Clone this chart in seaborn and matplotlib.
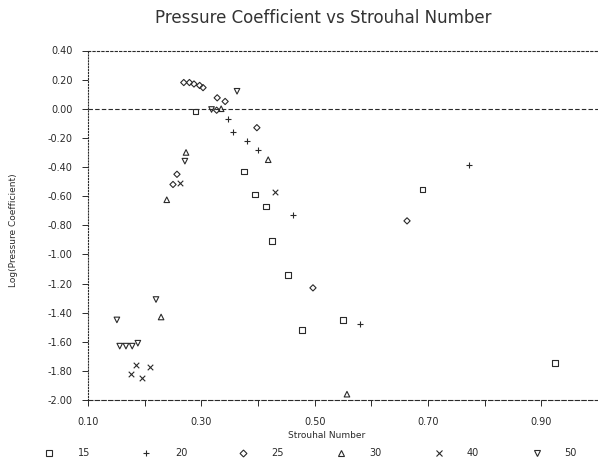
import numpy as np
import pandas as pd
import seaborn as sns
import matplotlib.pyplot as plt

# values (Strouhal number, log pressure coefficient)
re15_x = [0.290, 0.375, 0.395, 0.414, 0.425, 0.453, 0.478, 0.550, 0.690, 0.924]
re15_y = [-0.02, -0.43, -0.59, -0.67, -0.91, -1.14, -1.52, -1.45, -0.556, -1.745]

re20_x = [0.347, 0.356, 0.381, 0.400, 0.462, 0.580, 0.773]
re20_y = [-0.07, -0.16, -0.22, -0.28, -0.73, -1.48, -0.385]

re25_x = [0.269, 0.279, 0.287, 0.297, 0.303, 0.328, 0.342, 0.327, 0.398, 0.257, 0.250, 0.497, 0.663]
re25_y = [0.18, 0.18, 0.17, 0.16, 0.145, 0.075, 0.05, -0.01, -0.13, -0.45, -0.52, -1.23, -0.77]

re30_x = [0.335, 0.273, 0.239, 0.418, 0.229, 0.557]
re30_y = [0.0, -0.30, -0.625, -0.35, -1.43, -1.96]

re40_x = [0.262, 0.430, 0.185, 0.176, 0.195, 0.209]
re40_y = [-0.51, -0.57, -1.76, -1.82, -1.85, -1.77]

re50_x = [0.363, 0.318, 0.271, 0.220, 0.151, 0.156, 0.167, 0.178, 0.188]
re50_y = [0.12, -0.005, -0.36, -1.31, -1.45, -1.63, -1.63, -1.63, -1.61]

labels = ['15', '20', '25', '30', '40', '50']
markers = ['s', '+', 'D', '^', 'x', 'v']
series_x = [re15_x, re20_x, re25_x, re30_x, re40_x, re50_x]
series_y = [re15_y, re20_y, re25_y, re30_y, re40_y, re50_y]

sns.set_style('white')
plt.rcParams['font.family'] = ['DejaVu Sans']

ink = '#2a2a2a'
W, H = 598, 466
fig = plt.figure(figsize=(W / 100, H / 100), dpi=100)
ax = fig.add_axes([88 / W, 1 - 400 / H, 510 / W, 349.5 / H])

sizes = {'s': 16, '+': 22, 'D': 10, '^': 16, 'x': 16, 'v': 16}
for lab, m, xs, ys in zip(labels, markers, series_x, series_y):
    df = pd.DataFrame({'St': xs, 'logCp': ys})
    if m in ('+', 'x'):
        sns.scatterplot(data=df, x='St', y='logCp', marker=m, color=ink,
                        s=sizes[m], linewidth=0.8, ax=ax)
    else:
        sns.scatterplot(data=df, x='St', y='logCp', marker=m, facecolor='none',
                        edgecolor=ink, s=sizes[m], linewidth=0.8, ax=ax)

ax.axhline(0, ls=(0, (4, 2)), lw=0.8, color=ink)


def fmt(v, p):
    s = f'{v:.2f}'
    return '0.00' if s == '-0.00' else s


ax.set_xlim(0.1, 1.0)
ax.set_ylim(-2.0, 0.4)
ax.set_xticks([0.1, 0.3, 0.5, 0.7, 0.9])
ax.set_xticks([0.2, 0.4, 0.6, 0.8], minor=True)
ax.set_yticks(np.round(np.arange(-2.0, 0.41, 0.2), 2))
ax.xaxis.set_major_formatter(fmt)
ax.yaxis.set_major_formatter(fmt)
ax.tick_params(axis='both', which='both', direction='out', length=4, width=0.7,
               color=ink, labelcolor=ink, labelsize=7, bottom=True, left=True)
ax.tick_params(axis='x', pad=8)
ax.tick_params(axis='y', pad=7)
ax.set_xlabel('')
ax.set_ylabel('')

for side in ('left', 'top', 'bottom'):
    ax.spines[side].set_color(ink)
    ax.spines[side].set_linewidth(0.8)
ax.spines['left'].set_linestyle(':')
ax.spines['top'].set_linestyle((0, (2, 2)))
ax.spines['bottom'].set_linestyle((0, (4, 2)))
ax.spines['right'].set_color('#cccccc')
ax.spines['right'].set_linewidth(0.6)

fig.text(323 / W, 1 - 18 / H, 'Pressure Coefficient vs Strouhal Number',
         ha='center', va='center', fontsize=12, color='#333333')
fig.text(327 / W, 1 - 435 / H, 'Strouhal Number', ha='center', va='center',
         fontsize=6.5, color=ink)
fig.text(14 / W, 1 - 230 / H, 'Log(Pressure Coefficient)', ha='center',
         va='center', rotation=90, fontsize=6.5, color=ink)

# key row under the axis
mark_px = [49, 146, 243, 341, 439, 537]
lab_px = [84, 181, 278, 375, 473, 570]
for lab, m, mx, lx in zip(labels, markers, mark_px, lab_px):
    filled = m in ('+', 'x')
    fig.lines.append(plt.Line2D([mx / W], [1 - 453 / H], marker=m, ls='none',
                                markersize=4.5 if m != 'D' else 3.5,
                                markerfacecolor=ink if filled else 'none',
                                markeredgecolor=ink, markeredgewidth=0.8,
                                transform=fig.transFigure))
    fig.text(lx / W, 1 - 453 / H, lab, ha='center', va='center', fontsize=7,
             color=ink)

fig.savefig('out.png', dpi=100)
